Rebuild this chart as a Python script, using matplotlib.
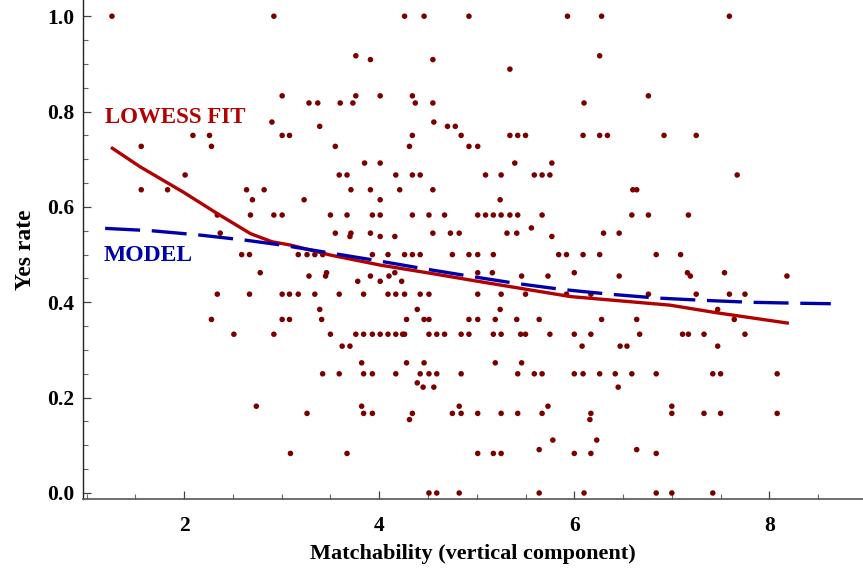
import matplotlib
matplotlib.use("Agg")
import matplotlib.pyplot as plt
from matplotlib.ticker import MultipleLocator, FixedLocator

# ---------------- data ----------------
match_x = [
    1.26, 2.92, 4.26, 4.46, 4.92, 5.93, 6.28, 7.59,            # 1.0
    3.76, 6.26,                                                # 0.917
    3.91, 4.55,                                                # 0.909
    5.34,                                                      # 0.889
    3.005, 3.76, 4.01, 4.34, 6.76,                             # 0.833
    3.28, 3.37, 3.60, 3.73, 4.37, 4.55, 6.10,                  # 0.818
    2.90, 4.56,                                                # 0.778
    3.39, 4.70, 4.78,                                          # 0.769
    2.09, 2.26, 3.005, 3.08, 4.34, 4.84, 5.34, 5.42, 5.50, 6.09, 6.26, 6.34, 6.92, 7.25,  # 0.75
    1.56, 2.28, 3.55, 4.31, 4.92, 5.01,                        # 0.727
    3.85, 4.01, 5.39, 5.77,                                    # 0.692
    2.01, 3.59, 3.67, 4.17, 4.34, 4.42, 5.09, 5.25, 5.59, 5.67, 5.75, 7.67,  # 0.667
    1.56, 1.83, 2.64, 2.82, 3.71, 3.91, 4.21, 4.55, 6.60, 6.64,  # 0.636
    2.70, 3.23, 4.01, 5.24,                                    # 0.615
    2.34, 2.68, 2.92, 3.005, 3.50, 3.67, 3.93, 4.01, 4.34, 4.51, 4.67, 5.01, 5.09, 5.17, 5.25, 5.34, 5.42, 5.67, 6.59, 6.76, 7.17,  # 0.583
    5.56,                                                      # 0.556
    2.37, 3.55, 3.71, 3.91, 4.55, 4.73, 4.82, 5.31, 5.41, 6.30, 6.46,  # 0.545
    3.70, 4.01, 4.16, 5.77,                                    # 0.538
    2.59, 2.67, 3.17, 3.26, 3.34, 3.42, 3.93, 4.09, 4.26, 4.34, 4.42, 4.75, 4.92, 5.01, 5.17, 5.84, 5.92, 6.09, 6.26, 6.84, 7.09,  # 0.5
    2.78, 3.46, 4.16, 5.01, 5.16, 6.00, 7.16, 7.54,            # 0.462
    3.28, 3.45, 3.91, 4.10, 5.46, 5.73, 6.46, 7.19, 8.18,      # 0.455
    3.78, 4.01, 4.23,                                          # 0.444
    2.34, 2.67, 3.005, 3.08, 3.17, 3.34, 3.59, 3.84, 4.09, 4.17, 4.26, 4.42, 4.51, 5.01, 5.25, 5.50, 5.92, 6.17, 6.76, 7.25, 7.59, 7.75,  # 0.417
    3.39, 4.39, 5.24, 7.47,                                    # 0.385
    2.28, 3.005, 3.08, 3.41, 4.28, 4.46, 4.51, 4.92, 5.01, 5.19, 5.41, 5.64, 6.28, 6.64, 7.64,  # 0.364
    2.51, 2.92, 3.50, 3.76, 3.84, 3.93, 4.01, 4.09, 4.17, 4.24, 4.26, 4.51, 4.59, 4.67, 4.84, 4.92, 5.17, 5.25, 5.45, 5.50, 5.75, 6.00, 6.17, 6.67, 7.11, 7.17, 7.33, 7.75,  # 0.333
    3.62, 3.70, 6.08, 6.47, 6.54, 7.47,                        # 0.308
    3.82, 4.28, 4.46, 5.19, 5.46,                              # 0.273
    3.42, 3.59, 3.84, 3.93, 4.17, 4.42, 4.51, 4.59, 4.84, 5.42, 5.59, 5.67, 6.00, 6.09, 6.26, 6.42, 6.59, 6.84, 7.42, 7.50, 8.08,  # 0.25
    4.39,                                                      # 0.231
    4.45, 4.56, 6.45,                                          # 0.222
    2.74, 3.82, 4.82, 5.73, 7.00,                              # 0.182
    3.26, 3.84, 3.93, 4.34, 4.75, 4.84, 5.01, 5.25, 5.42, 5.67, 6.17, 7.00, 7.33, 7.50, 8.08,  # 0.167
    4.31, 6.16,                                                # 0.154
    5.78, 6.23,                                                # 0.111
    5.64, 6.64,                                                # 0.091
    3.09, 3.67, 5.01, 5.17, 5.25, 6.00, 6.17, 6.84,            # 0.083
    4.51, 4.59, 4.82, 5.64, 6.10, 6.84, 7.00, 7.42,            # 0.0
]

yes_rate = [
    1.0, 1.0, 1.0, 1.0, 1.0, 1.0, 1.0, 1.0,
    0.917, 0.917,
    0.909, 0.909,
    0.889,
    0.833, 0.833, 0.833, 0.833, 0.833,
    0.818, 0.818, 0.818, 0.818, 0.818, 0.818, 0.818,
    0.778, 0.778,
    0.769, 0.769, 0.769,
    0.75, 0.75, 0.75, 0.75, 0.75, 0.75, 0.75, 0.75, 0.75, 0.75, 0.75, 0.75, 0.75, 0.75,
    0.727, 0.727, 0.727, 0.727, 0.727, 0.727,
    0.692, 0.692, 0.692, 0.692,
    0.667, 0.667, 0.667, 0.667, 0.667, 0.667, 0.667, 0.667, 0.667, 0.667, 0.667, 0.667,
    0.636, 0.636, 0.636, 0.636, 0.636, 0.636, 0.636, 0.636, 0.636, 0.636,
    0.615, 0.615, 0.615, 0.615,
    0.583, 0.583, 0.583, 0.583, 0.583, 0.583, 0.583, 0.583, 0.583, 0.583, 0.583, 0.583, 0.583, 0.583, 0.583, 0.583, 0.583, 0.583, 0.583, 0.583, 0.583,
    0.556,
    0.545, 0.545, 0.545, 0.545, 0.545, 0.545, 0.545, 0.545, 0.545, 0.545, 0.545,
    0.538, 0.538, 0.538, 0.538,
    0.5, 0.5, 0.5, 0.5, 0.5, 0.5, 0.5, 0.5, 0.5, 0.5, 0.5, 0.5, 0.5, 0.5, 0.5, 0.5, 0.5, 0.5, 0.5, 0.5, 0.5,
    0.462, 0.462, 0.462, 0.462, 0.462, 0.462, 0.462, 0.462,
    0.455, 0.455, 0.455, 0.455, 0.455, 0.455, 0.455, 0.455, 0.455,
    0.444, 0.444, 0.444,
    0.417, 0.417, 0.417, 0.417, 0.417, 0.417, 0.417, 0.417, 0.417, 0.417, 0.417, 0.417, 0.417, 0.417, 0.417, 0.417, 0.417, 0.417, 0.417, 0.417, 0.417, 0.417,
    0.385, 0.385, 0.385, 0.385,
    0.364, 0.364, 0.364, 0.364, 0.364, 0.364, 0.364, 0.364, 0.364, 0.364, 0.364, 0.364, 0.364, 0.364, 0.364,
    0.333, 0.333, 0.333, 0.333, 0.333, 0.333, 0.333, 0.333, 0.333, 0.333, 0.333, 0.333, 0.333, 0.333, 0.333, 0.333, 0.333, 0.333, 0.333, 0.333, 0.333, 0.333, 0.333, 0.333, 0.333, 0.333, 0.333, 0.333,
    0.308, 0.308, 0.308, 0.308, 0.308, 0.308,
    0.273, 0.273, 0.273, 0.273, 0.273,
    0.25, 0.25, 0.25, 0.25, 0.25, 0.25, 0.25, 0.25, 0.25, 0.25, 0.25, 0.25, 0.25, 0.25, 0.25, 0.25, 0.25, 0.25, 0.25, 0.25, 0.25,
    0.231,
    0.222, 0.222, 0.222,
    0.182, 0.182, 0.182, 0.182, 0.182,
    0.167, 0.167, 0.167, 0.167, 0.167, 0.167, 0.167, 0.167, 0.167, 0.167, 0.167, 0.167, 0.167, 0.167, 0.167,
    0.154, 0.154,
    0.111, 0.111,
    0.091, 0.091,
    0.083, 0.083, 0.083, 0.083, 0.083, 0.083, 0.083, 0.083,
    0.0, 0.0, 0.0, 0.0, 0.0, 0.0, 0.0, 0.0,
]

lowess_x = [1.25, 1.55, 2.0, 2.34, 2.68, 2.90, 3.09, 3.50, 4.01, 4.52, 5.04, 5.96, 6.98, 7.46, 8.20]
lowess_y = [0.725, 0.684, 0.63, 0.586, 0.544, 0.527, 0.520, 0.499, 0.478, 0.461, 0.443, 0.412, 0.394, 0.378, 0.356]

model_x = [1.19, 1.67, 2.16, 2.64, 3.0, 3.48, 3.96, 4.44, 4.92, 5.39, 5.87, 6.36, 6.84, 7.33, 7.81, 8.30, 8.63]
model_y = [0.555, 0.550, 0.541, 0.530, 0.520, 0.504, 0.488, 0.471, 0.455, 0.440, 0.427, 0.417, 0.409, 0.404, 0.400, 0.398, 0.397]

x_ticks = [2, 4, 6, 8]
y_ticks = [0.0, 0.2, 0.4, 0.6, 0.8, 1.0]
y_tick_labels = ["0.0", "0.2", "0.4", "0.6", "0.8", "1.0"]

# ---------------- plot ----------------
plt.rcParams['font.family'] = ['Liberation Serif', 'DejaVu Serif']
plt.rcParams['font.weight'] = 'bold'

fig = plt.figure(figsize=(8.63, 5.71), dpi=100)
ax = fig.add_axes([82.7 / 863, 72 / 571, 1 - 82.7 / 863, 1 - 72 / 571])

point_color = '#7a0000'
lowess_color = '#b30000'
model_color = '#0000aa'

ax.scatter(match_x, yes_rate, s=16, color=point_color, edgecolors='none', zorder=2, clip_on=False)
ax.plot(lowess_x, lowess_y, color=lowess_color, lw=2.4, zorder=3, solid_capstyle='butt')
ax.plot(model_x, model_y, color=model_color, lw=2.4, zorder=4, dashes=(10.5, 3.5), dash_capstyle='butt')

ax.text(1.19, 0.788, "LOWESS FIT", color=lowess_color, fontsize=16.5, fontweight='bold',
        ha='left', va='center')
ax.text(1.17, 0.499, "MODEL", color=model_color, fontsize=17, fontweight='bold',
        ha='left', va='center')

ax.set_xlim(0.96, 8.96)
ax.set_ylim(-0.0126, 1.034)

ax.spines['top'].set_visible(False)
ax.spines['right'].set_visible(False)
ax.spines['left'].set_color('#222222')
ax.spines['bottom'].set_color('#555555')
ax.spines['left'].set_linewidth(1.0)
ax.spines['bottom'].set_linewidth(1.2)

ax.xaxis.set_major_locator(FixedLocator(x_ticks))
ax.xaxis.set_minor_locator(MultipleLocator(0.5))
ax.yaxis.set_major_locator(FixedLocator(y_ticks))
ax.set_yticklabels(y_tick_labels)
ax.yaxis.set_minor_locator(MultipleLocator(0.05))

ax.tick_params(axis='both', which='major', direction='in', length=6, width=0.9,
               color='#444444', labelsize=15.5, pad=6)
ax.tick_params(axis='both', which='minor', direction='in', length=3.5, width=0.8,
               color='#666666')
ax.tick_params(axis='x', which='major', pad=12)
for lab in ax.get_xticklabels() + ax.get_yticklabels():
    lab.set_fontweight('bold')

ax.set_xlabel("Matchability (vertical component)", fontsize=16, fontweight='bold', labelpad=6)
ax.set_ylabel("Yes rate", fontsize=17, fontweight='bold', labelpad=8)

fig.savefig("out.png", dpi=100)
